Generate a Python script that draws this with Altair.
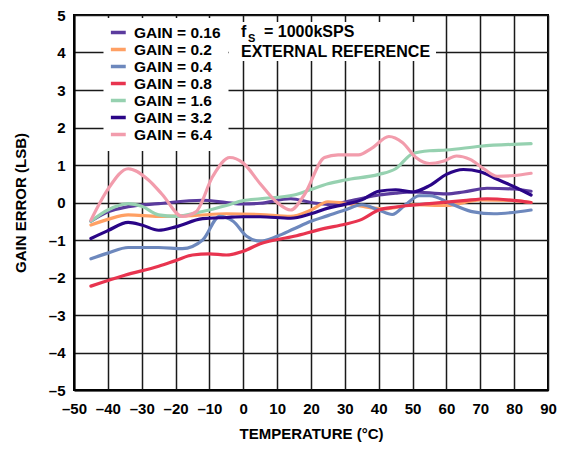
import altair as alt
import pandas as pd

FONT = "Liberation Sans"

series_names = ["GAIN = 0.16", "GAIN = 0.2", "GAIN = 0.4", "GAIN = 0.8",
                "GAIN = 1.6", "GAIN = 3.2", "GAIN = 6.4"]
series_colors = ["#5b3b9e", "#ffa064", "#6d88bd", "#e8344f",
                 "#96d1b0", "#2a0587", "#f29cac"]

t_016 = [-45, -40, -34, -25, -12, -5, 0, 5, 14, 20, 25, 33, 40, 45, 50, 60, 65, 72, 80, 85]
v_016 = [-0.5, -0.25, -0.11, -0.03, 0.06, 0.0, -0.04, -0.02, 0.1, 0.0, -0.05, 0.07, 0.2, 0.25, 0.28, 0.23, 0.28, 0.38, 0.36, 0.3]

t_02 = [-45, -40, -34, -25, -15, -5, 5, 14, 20, 25, 30, 35, 42, 50, 60, 70, 80, 85]
v_02 = [-0.6, -0.45, -0.33, -0.37, -0.35, -0.3, -0.32, -0.37, -0.2, 0.02, -0.02, -0.1, -0.17, -0.06, -0.08, 0.07, 0.05, 0.0]

t_04 = [-45, -40, -34, -25, -18, -12, -7, -3, 1, 5, 10, 15, 20, 25, 30, 35, 40, 44, 48, 52, 55, 62, 68, 74, 85]
v_04 = [-1.5, -1.35, -1.2, -1.2, -1.23, -1.0, -0.37, -0.5, -0.9, -1.03, -0.9, -0.7, -0.5, -0.35, -0.2, -0.06, -0.2, -0.32, -0.05, 0.18, 0.18, -0.06, -0.25, -0.3, -0.2]

t_08 = [-45, -35, -25, -20, -15, -10, -5, 0, 5, 15, 24, 30, 35, 40, 45, 55, 65, 72, 85]
v_08 = [-2.23, -1.94, -1.7, -1.55, -1.4, -1.37, -1.4, -1.3, -1.1, -0.9, -0.69, -0.58, -0.45, -0.2, -0.12, -0.03, 0.05, 0.1, 0.0]

t_16 = [-45, -40, -34, -30, -25, -20, -14, -10, -5, 0, 5, 15, 20, 25, 30, 40, 45, 50, 55, 60, 70, 85]
v_16 = [-0.5, -0.2, -0.03, -0.1, -0.33, -0.37, -0.28, -0.2, -0.08, 0.05, 0.1, 0.2, 0.35, 0.5, 0.6, 0.75, 0.9, 1.3, 1.38, 1.4, 1.5, 1.57]

t_32 = [-45, -40, -34, -30, -25, -20, -12, -5, 0, 5, 14, 20, 25, 30, 35, 40, 45, 50, 55, 60, 65, 70, 75, 80, 85]
v_32 = [-0.96, -0.75, -0.53, -0.6, -0.74, -0.65, -0.43, -0.4, -0.38, -0.38, -0.42, -0.3, -0.15, -0.05, 0.07, 0.3, 0.34, 0.28, 0.45, 0.75, 0.88, 0.82, 0.62, 0.42, 0.2]

t_64 = [-45, -40, -34, -28, -24, -18, -14, -9, -4, 0, 5, 10, 14, 18, 24, 28, 34, 38, 43, 47, 51, 55, 59, 63, 67, 71, 75, 80, 85]
v_64 = [-0.47, 0.35, 0.9, 0.6, 0.22, -0.37, -0.25, 0.7, 1.2, 1.05, 0.5, 0.0, -0.2, 0.2, 1.2, 1.27, 1.27, 1.45, 1.76, 1.6, 1.2, 1.04, 1.1, 1.24, 1.15, 0.9, 0.7, 0.72, 0.78]

all_t = [t_016, t_02, t_04, t_08, t_16, t_32, t_64]
all_v = [v_016, v_02, v_04, v_08, v_16, v_32, v_64]

rows = []
for name, ts, vs in zip(series_names, all_t, all_v):
    for t, v in zip(ts, vs):
        rows.append({"series": name, "temp": t, "err": v})
df = pd.DataFrame(rows)
one = pd.DataFrame({"k": [0]})

x_ticks = list(range(-50, 91, 10))
y_ticks = list(range(-5, 6))

W, H = 474, 375

minus_expr = "datum.value < 0 ? '\u2013' + abs(datum.value) : datum.label"

lines = alt.Chart(df).mark_line(interpolate="monotone", strokeWidth=3.2, strokeCap="round").encode(
    x=alt.X("temp:Q", scale=alt.Scale(domain=[-50, 90], nice=False),
            axis=alt.Axis(values=x_ticks, title="TEMPERATURE (°C)", labelExpr=minus_expr,
                          labelPadding=11, labelOverlap=False, labelFlush=False,
                          titleY=43, titleBaseline="middle")),
    y=alt.Y("err:Q", scale=alt.Scale(domain=[-5, 5], nice=False),
            axis=alt.Axis(values=y_ticks, title="GAIN ERROR (LSB)", labelExpr=minus_expr,
                          labelPadding=9, labelOverlap=False, labelFlush=False,
                          titleX=-54, titleY=H / 2, titleAngle=-90,
                          titleAlign="center", titleBaseline="middle")),
    color=alt.Color("series:N", scale=alt.Scale(domain=series_names, range=series_colors),
                    legend=alt.Legend(title=None, orient="none", legendX=29.5, legendY=3,
                                      symbolType="M-1.5,0L1.5,0", symbolSize=100,
                                      symbolStrokeWidth=3.5, clipHeight=15.2,
                                      labelFontSize=15.5, labelFont=FONT, labelFontWeight="bold",
                                      labelColor="black", labelOffset=8, rowPadding=0,
                                      fillColor="white", padding=7)),
    order=alt.Order("temp:Q"),
)

box = alt.Chart(one).mark_rect(color="white").encode(
    x=alt.value(155), x2=alt.value(362), y=alt.value(7), y2=alt.value(46)
)

def label(text, x, y, size):
    return alt.Chart(one).mark_text(text=text, align="left", baseline="alphabetic", font=FONT,
                                    fontWeight="bold", fontSize=size, color="black").encode(
        x=alt.value(x), y=alt.value(y))

t1 = label("f", 167, 22, 16)
t2 = label("S", 174, 27, 11)
t3 = label("= 1000kSPS", 190, 22, 16)
t4 = label("EXTERNAL REFERENCE", 167, 42, 16)

chart = alt.layer(lines, box, t1, t2, t3, t4).properties(
    width=W, height=H,
    background="white",
    autosize=alt.AutoSizeParams(type="none"),
    padding={"left": 66, "top": 7, "right": 12, "bottom": 52},
).configure_view(
    stroke="black", strokeWidth=2
).configure_axis(
    labelFont=FONT, labelFontWeight="bold", labelFontSize=15, labelColor="black",
    titleFont=FONT, titleFontWeight="bold", titleFontSize=15, titleColor="black",
    grid=True, gridColor="#1a1a1a", gridWidth=1.5, gridOpacity=1,
    domainColor="black", domainWidth=2, ticks=False,
)

chart.save("out.html", embed_options={"renderer": "svg", "actions": False})
